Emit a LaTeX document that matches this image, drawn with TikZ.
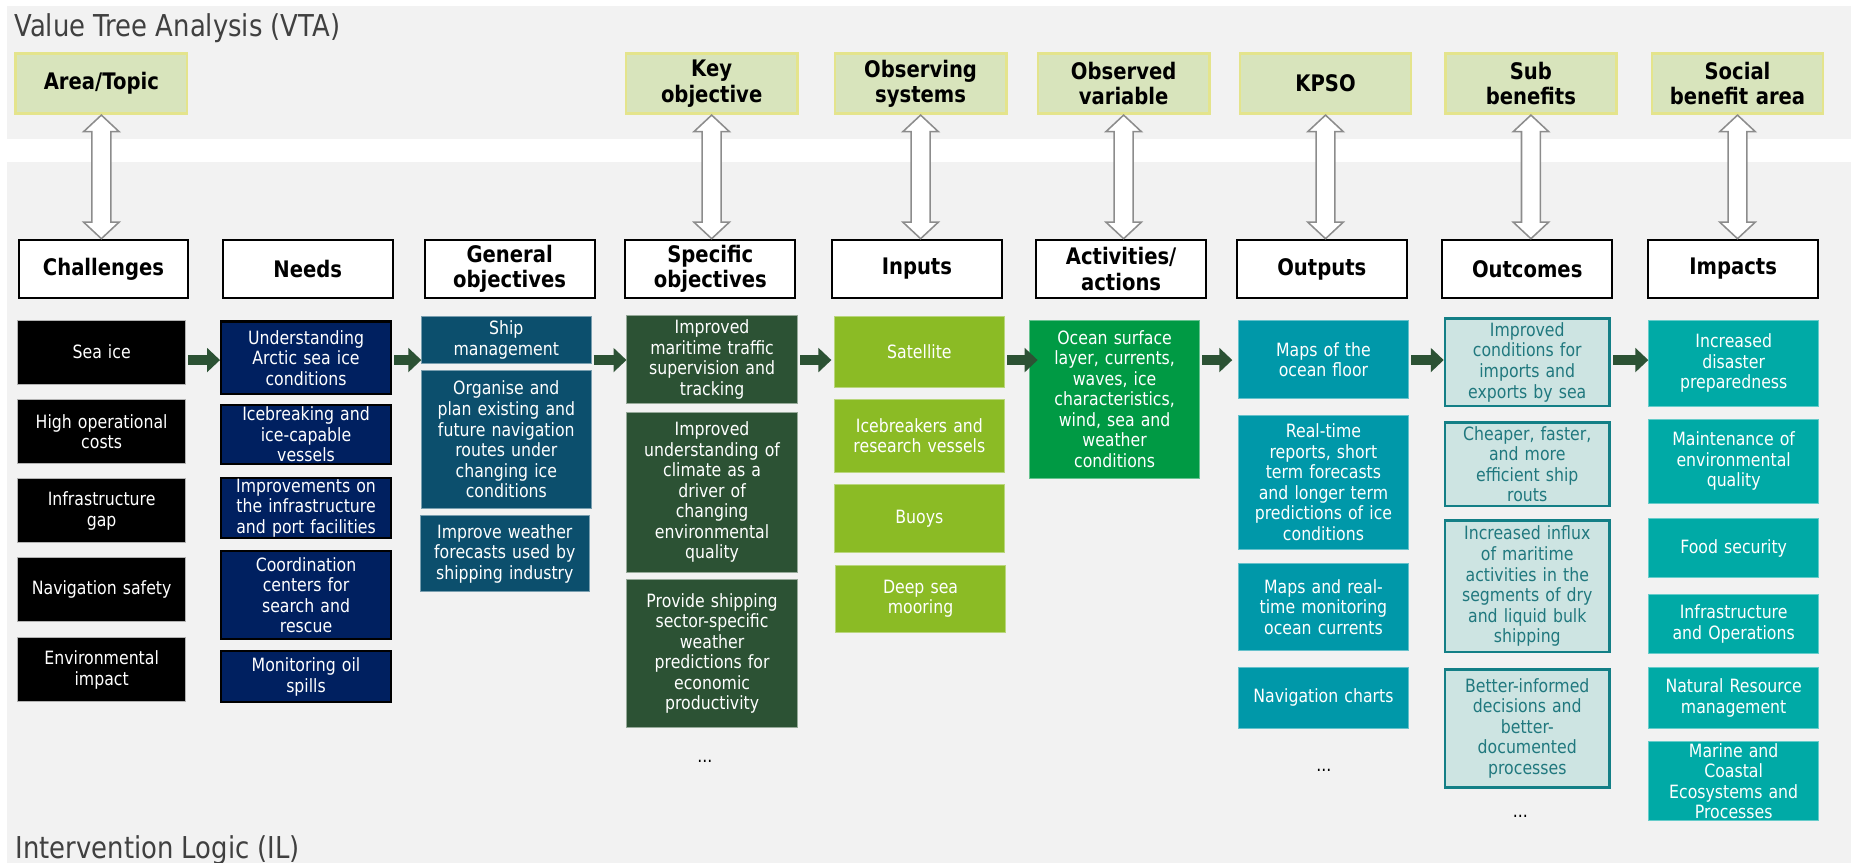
\documentclass[tikz,border=0pt]{standalone}
\usepackage{fontspec}
\setmainfont{DejaVu Sans}[FakeStretch=0.86]
\usetikzlibrary{arrows.meta,calc}

\definecolor{bandgray}{HTML}{F2F2F2}
\definecolor{titlegray}{HTML}{404040}
\definecolor{vtafill}{HTML}{D8E4BC}
\definecolor{vtaline}{HTML}{E4E48C}
\definecolor{needblue}{HTML}{002060}
\definecolor{genblue}{HTML}{0C4F6D}
\definecolor{specgreen}{HTML}{2C5234}
\definecolor{inlime}{HTML}{8BBB25}
\definecolor{actgreen}{HTML}{009A44}
\definecolor{outteal}{HTML}{0098A9}
\definecolor{ocfill}{HTML}{CDE4E2}
\definecolor{ocline}{HTML}{137F86}
\definecolor{octext}{HTML}{20787E}
\definecolor{impteal}{HTML}{00AAA6}
\definecolor{linkgray}{HTML}{8C8C8C}

% hollow two-headed arrow from the south of #1 to the north of #2
\newcommand\twoway[2]{%
  \draw[link] let \p1=(#1.south), \p2=(#2.north) in
    (\x1,\y1) -- (\x1+15pt,\y1-14pt) -- (\x1+8pt,\y1-14pt) -- (\x1+8pt,\y2+14pt)
    -- (\x1+15pt,\y2+14pt) -- (\x1,\y2) -- (\x1-15pt,\y2+14pt) -- (\x1-8pt,\y2+14pt)
    -- (\x1-8pt,\y1-14pt) -- (\x1-15pt,\y1-14pt) -- cycle;}

\begin{document}
\begin{tikzpicture}[
    x=1pt, y=-1pt,
    band/.style={fill=bandgray},
    bandtitle/.style={anchor=base west, inner sep=0pt, text=titlegray, font=\fontsize{25.5}{28}\selectfont},
    cell/.style={rectangle, anchor=north west, align=center, inner xsep=1pt, inner ysep=0pt,
        text=white, font=\fontsize{15.5}{17.4}\selectfont},
    vta/.style={cell, fill=vtafill, draw=vtaline, line width=2.3pt, text=black, text width=143pt,
        minimum height=51pt, font=\fontsize{19.3}{21.4}\selectfont\bfseries},
    head/.style={cell, fill=white, draw=black, line width=1.7pt, text=black, text width=141.9pt,
        minimum height=49.7pt, font=\fontsize{19.3}{21.4}\selectfont\bfseries},
    chal/.style={cell, fill=black, draw=gray!60, line width=0.6pt, text width=140.4pt},
    need/.style={cell, fill=needblue, draw=black, line width=1.8pt, text width=141.9pt},
    gen/.style={cell, fill=genblue, draw=genblue!55!white, line width=0.6pt, text width=141.4pt},
    spec/.style={cell, fill=specgreen, draw=specgreen!50!white, line width=0.6pt, text width=142.4pt},
    inp/.style={cell, fill=inlime, draw=inlime!60!white, line width=0.6pt, text width=142.4pt},
    act/.style={cell, fill=actgreen, draw=actgreen!60!white, line width=0.6pt, text width=141.8pt},
    outp/.style={cell, fill=outteal, draw=outteal!60!white, line width=0.6pt, text width=141.8pt},
    outc/.style={cell, fill=ocfill, draw=ocline, line width=2pt, text=octext, text width=137.5pt},
    imp/.style={cell, fill=impteal, draw=impteal!60!white, line width=0.6pt, text width=142pt},
    more/.style={anchor=center, inner sep=0pt, font=\fontsize{15.5}{17.4}\selectfont},
    link/.style={draw=linkgray, fill=white, line width=1.3pt, line join=miter},
    flow/.style={draw=specgreen, line width=9pt, -{Triangle[length=11pt,width=20pt]}, shorten <=2pt}
]
\useasboundingbox (0,0) rectangle (1568,731);
\fill[band] (6,5) rectangle (1568,118);
\fill[band] (6,137.5) rectangle (1568,731);

\node[bandtitle] (vtatitle) at (12,31) {Value Tree Analysis (VTA)};
\node[bandtitle] (iltitle) at (13,727) {Intervention Logic (IL)};

% value tree boxes
\node[vta] (area)   at (12.2,44.2)   {Area/Topic};
\node[vta] (keyobj) at (529.2,44.2)  {Key\\objective};
\node[vta] (obssys) at (706.2,44.2)  {Observing\\systems};
\node[vta] (obsvar) at (878.2,44.2)  {Observed\\variable};
\node[vta] (kpso)   at (1049.2,44.2) {KPSO};
\node[vta] (subben) at (1223.2,44.2) {Sub\\benefits};
\node[vta] (socben) at (1398.2,44.2) {Social\\benefit area};

% intervention logic headers
\node[head] (hchal) at (14.9,202.2)   {Challenges};
\node[head] (hneed) at (187.9,202.2)  {Needs};
\node[head] (hgen)  at (358.9,202.2)  {General\\objectives};
\node[head] (hspec) at (528.9,202.2)  {Specific\\objectives};
\node[head] (hin)   at (703.9,202.2)  {Inputs};
\node[head] (hact)  at (876.9,202.2)  {Activities/\\actions};
\node[head] (hout)  at (1046.9,202.2) {Outputs};
\node[head] (houtc) at (1220.9,202.2) {Outcomes};
\node[head] (himp)  at (1395.4,202.2) {Impacts};

\twoway{area}{hchal}
\twoway{keyobj}{hspec}
\twoway{obssys}{hin}
\twoway{obsvar}{hact}
\twoway{kpso}{hout}
\twoway{subben}{houtc}
\twoway{socben}{himp}

% challenges
\node[chal, minimum height=54.2pt] (chal1) at (14.6,270.8) {Sea ice};
\node[chal, minimum height=54.2pt] (chal2) at (14.6,338.3) {High operational\\costs};
\node[chal, minimum height=54.2pt] (chal3) at (14.6,405.3) {Infrastructure\\gap};
\node[chal, minimum height=54.2pt] (chal4) at (14.6,471.9) {Navigation safety};
\node[chal, minimum height=54.2pt] (chal5) at (14.6,539.9) {Environmental\\impact};

% needs
\node[need, minimum height=61.5pt] (need1) at (186.4,271.4) {Understanding\\Arctic sea ice\\conditions};
\node[need, minimum height=50.5pt] (need2) at (186.4,341.9) {Icebreaking and\\ice-capable\\vessels};
\node[need, minimum height=50.7pt] (need3) at (186.4,404.1) {Improvements on\\the infrastructure\\and port facilities};
\node[need, minimum height=73.9pt] (need4) at (186.4,466.2) {Coordination\\centers for\\search and\\rescue};
\node[need, minimum height=43.2pt] (need5) at (186.4,550.9) {Monitoring oil\\spills};

% general objectives
\node[gen, minimum height=39.5pt]  (gen1) at (356.9,268) {Ship\\management};
\node[gen, minimum height=116.6pt] (gen2) at (356.9,313.7) {Organise and\\plan existing and\\future navigation\\routes under\\changing ice\\conditions};
\node[gen, minimum height=64.3pt]  (gen3) at (355.6,436.6) {Improve weather\\forecasts used by\\shipping industry};

% specific objectives
\node[spec, minimum height=74.8pt]  (spec1) at (530.7,266.6) {Improved\\maritime traffic\\supervision and\\tracking};
\node[spec, minimum height=134.9pt] (spec2) at (530.7,349.3) {Improved\\understanding of\\climate as a\\driver of\\changing\\environmental\\quality};
\node[spec, minimum height=125.9pt] (spec3) at (530.7,490.2) {Provide shipping\\sector-specific\\weather\\predictions for\\economic\\productivity};
\node[more] (specmore) at (597,645) {...};

% inputs
\node[inp, minimum height=60.4pt] (in1) at (706.3,267.4) {Satellite};
\node[inp, minimum height=61.2pt] (in2) at (706.3,338.3) {Icebreakers and\\research vessels};
\node[inp, minimum height=58.2pt] (in3) at (706.3,409.7) {Buoys};
\node[inp, minimum height=57.4pt] (in4) at (707.3,478.3) {Deep sea\\mooring};

% activities
\node[act, minimum height=133.9pt] (act1) at (872,270.8) {Ocean surface\\layer, currents,\\waves, ice\\characteristics,\\wind, sea and\\weather\\conditions};

% outputs
\node[outp, minimum height=66.3pt]  (out1) at (1048.9,271.1) {Maps of the\\ocean floor};
\node[outp, minimum height=113.7pt] (out2) at (1048.9,351.2) {Real-time\\reports, short\\term forecasts\\and longer term\\predictions of ice\\conditions};
\node[outp, minimum height=73.6pt]  (out3) at (1048.9,477.1) {Maps and real-\\time monitoring\\ocean currents};
\node[outp, minimum height=51.1pt]  (out4) at (1048.9,565.3) {Navigation charts};
\node[more] (outmore) at (1121.5,652.6) {...};

% outcomes
\node[outc, minimum height=74pt]    (outc1) at (1223,268.8) {Improved\\conditions for\\imports and\\exports by sea};
\node[outc, minimum height=70.4pt]  (outc2) at (1223,357)   {Cheaper, faster,\\and more\\efficient ship\\routs};
\node[outc, minimum height=111.2pt] (outc3) at (1223,440)   {Increased influx\\of maritime\\activities in the\\segments of dry\\and liquid bulk\\shipping};
\node[outc, minimum height=100pt]   (outc4) at (1223,566)   {Better-informed\\decisions and\\better-\\documented\\processes};
\node[more] (outcmore) at (1288,691.5) {...};

% impacts
\node[imp, minimum height=72.4pt] (imp1) at (1396.3,271.1) {Increased\\disaster\\preparedness};
\node[imp, minimum height=71.4pt] (imp2) at (1396.3,354.8) {Maintenance of\\environmental\\quality};
\node[imp, minimum height=49.9pt] (imp3) at (1396.3,439.1) {Food security};
\node[imp, minimum height=50.4pt] (imp4) at (1396.3,503)   {Infrastructure\\and Operations};
\node[imp, minimum height=51.1pt] (imp5) at (1396.3,565.3) {Natural Resource\\management};
\node[imp, minimum height=66.9pt] (imp6) at (1396.3,628)   {Marine and\\Coastal\\Ecosystems and\\Processes};

% flow between the columns
\coordinate (flowrow) at (0,305);
\draw[flow] (chal1.east |- flowrow) -- (need1.west |- flowrow);
\draw[flow] (need1.east |- flowrow) -- (gen1.west |- flowrow);
\draw[flow] (gen1.east |- flowrow) -- (spec1.west |- flowrow);
\draw[flow, shorten >=2pt] (spec1.east |- flowrow) -- (in1.west |- flowrow);
\draw[flow, shorten >=-7pt] (in1.east |- flowrow) -- (act1.west |- flowrow);
\draw[flow, shorten >=5pt] (act1.east |- flowrow) -- (out1.west |- flowrow);
\draw[flow] (out1.east |- flowrow) -- (outc1.west |- flowrow);
\draw[flow] (outc1.east |- flowrow) -- (imp1.west |- flowrow);
\end{tikzpicture}
\end{document}
